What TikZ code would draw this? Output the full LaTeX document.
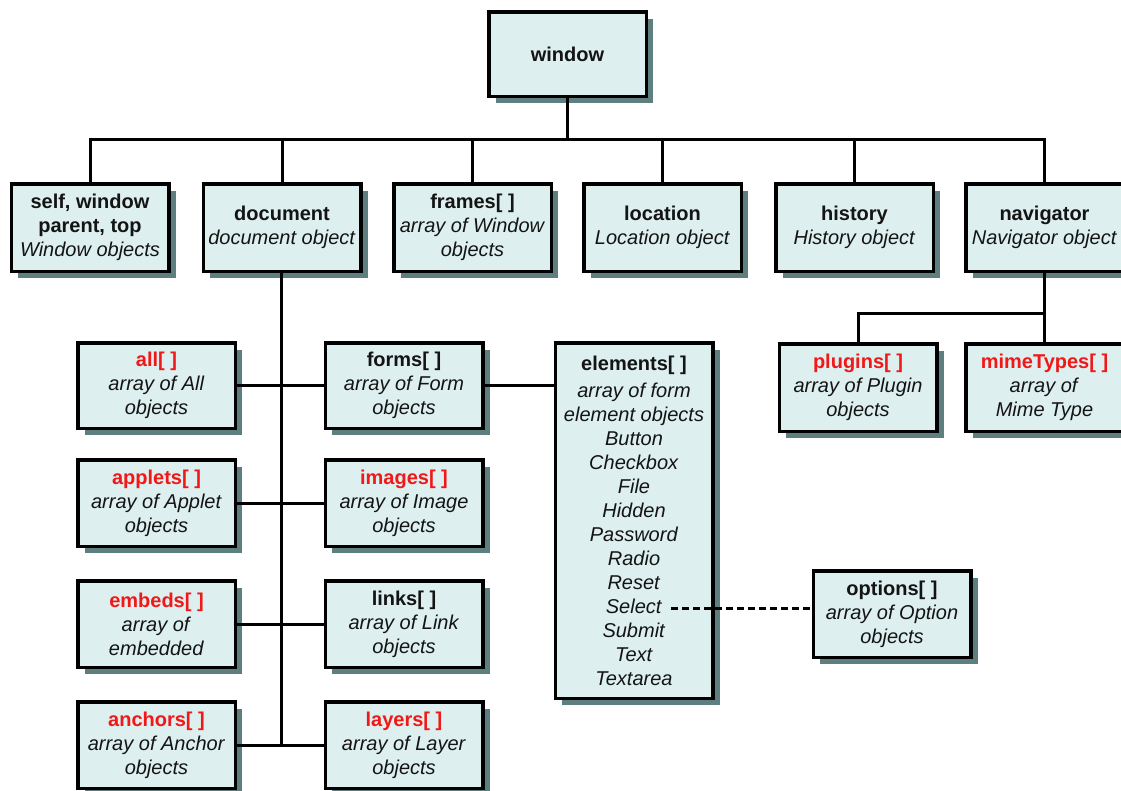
\documentclass[tikz,border=0pt]{standalone}
\usepackage{fontspec}
\setmainfont{Liberation Sans}
\usetikzlibrary{shadows}
\definecolor{boxfill}{RGB}{221,239,239}
\definecolor{shadowc}{RGB}{94,127,128}
\definecolor{redtxt}{RGB}{240,24,24}
\newcommand{\myhd}[1]{\textbf{#1}}
\newcommand{\myrhd}[1]{\textcolor{redtxt}{\textbf{#1}}}
\newcommand{\myti}[1]{\textit{#1}}
\tikzset{
  obj/.style={draw=black, line width=3.5pt, fill=boxfill, minimum width=157.5pt,
    minimum height=86.5pt, align=center, inner sep=0pt, text=black!92,
    font=\fontsize{20}{24}\selectfont,
    drop shadow={shadow xshift=7pt, shadow yshift=-7pt, fill=shadowc, opacity=1}},
  conn/.style={line width=3pt, draw=black},
  dashconn/.style={conn, dash pattern=on 7pt off 4pt},
}
\begin{document}
\begin{tikzpicture}[x=1pt,y=1pt]
\useasboundingbox (0,0) rectangle (1121,-790);
% top
\node[obj, minimum height=84.5pt] (win) at (567.5,-54) {\myhd{window}};
% first row
\node[obj, minimum height=87.5pt] (self) at (90,-227.5) {\myhd{self, window}\\\myhd{parent, top}\\\myti{Window objects}};
\node[obj, minimum height=87.5pt] (doc) at (282,-227.5) {\myhd{document}\\\myti{document object}};
\node[obj, minimum height=87.5pt] (frames) at (472.5,-227.5) {\myhd{frames[ ]}\\\myti{array of Window}\\\myti{objects}};
\node[obj, minimum height=87.5pt] (loc) at (662.5,-227.5) {\myhd{location}\\\myti{Location object}};
\node[obj, minimum height=87.5pt] (hist) at (854.5,-227.5) {\myhd{history}\\\myti{History object}};
\node[obj, minimum height=87.5pt] (nav) at (1044.5,-227.5) {\myhd{navigator}\\\myti{Navigator object}};
% document children
\node[obj, minimum height=85.5pt] (all) at (156.5,-385.5) {\myrhd{all[ ]}\\\myti{array of All}\\\myti{objects}};
\node[obj, minimum height=85.5pt] (forms) at (404,-385.5) {\myhd{forms[ ]}\\\myti{array of Form}\\\myti{objects}};
\node[obj] (applets) at (156.5,-503) {\myrhd{applets[ ]}\\\myti{array of Applet}\\\myti{objects}};
\node[obj] (images) at (404,-503) {\myrhd{images[ ]}\\\myti{array of Image}\\\myti{objects}};
\node[obj] (embeds) at (156.5,-624) {\myrhd{embeds[ ]}\\\myti{array of}\\\myti{embedded}};
\node[obj] (links) at (404,-624) {\myhd{links[ ]}\\\myti{array of Link}\\\myti{objects}};
\node[obj] (anchors) at (156.5,-745) {\myrhd{anchors[ ]}\\\myti{array of Anchor}\\\myti{objects}};
\node[obj] (layers) at (404,-745) {\myrhd{layers[ ]}\\\myti{array of Layer}\\\myti{objects}};
% elements
\node[obj, minimum height=355.5pt] (elem) at (634,-520.5) {\myhd{elements[ ]}\\[3pt]\myti{array of form}\\\myti{element objects}\\\myti{Button}\\\myti{Checkbox}\\\myti{File}\\\myti{Hidden}\\\myti{Password}\\\myti{Radio}\\\myti{Reset}\\\myti{Select}\\\myti{Submit}\\\myti{Text}\\\myti{Textarea}};
% navigator children
\node[obj, minimum height=87.5pt] (plug) at (858,-387.5) {\myrhd{plugins[ ]}\\\myti{array of Plugin}\\\myti{objects}};
\node[obj, minimum height=87.5pt] (mime) at (1044.5,-387.5) {\myrhd{mimeTypes[ ]}\\\myti{array of}\\\myti{Mime Type}};
% options
\node[obj] (opt) at (892,-614) {\myhd{options[ ]}\\\myti{array of Option}\\\myti{objects}};
% connectors
\coordinate (bus) at (0,-139);
\coordinate (nb) at (0,-313);
\coordinate (sel) at (671,-608);
\draw[conn] (win.south) -- (win.south |- bus);
\draw[conn] (self.north) -- (self.north |- bus) -- (nav.north |- bus) -- (nav.north);
\draw[conn] (doc.north) -- (doc.north |- bus);
\draw[conn] (frames.north) -- (frames.north |- bus);
\draw[conn] (loc.north) -- (loc.north |- bus);
\draw[conn] (hist.north) -- (hist.north |- bus);
\draw[conn] ([xshift=-1pt]doc.south) -- ([xshift=-1pt]doc.south |- anchors.east);
\draw[conn] (all.east) -- (forms.west);
\draw[conn] (forms.east) -- (elem.west |- forms.east);
\draw[conn] (applets.east) -- (images.west);
\draw[conn] (embeds.east) -- (links.west);
\draw[conn] (anchors.east) -- (layers.west);
\draw[conn] (nav.south) -- (nav.south |- nb) -| (plug.north);
\draw[conn] (nav.south |- nb) -- (mime.north);
\draw[dashconn] (sel) -- (opt.west |- sel);
\end{tikzpicture}
\end{document}
